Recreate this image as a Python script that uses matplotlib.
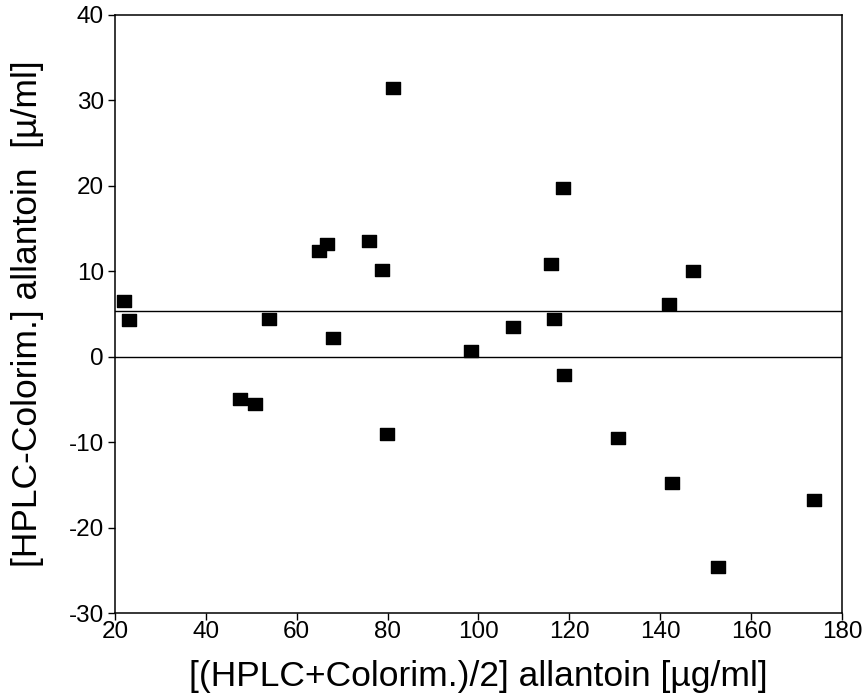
import numpy as np
import matplotlib.pyplot as plt
from matplotlib.path import Path

plt.rcParams['font.family'] = ['Liberation Sans', 'DejaVu Sans']
plt.rcParams['axes.unicode_minus'] = False

# moyenne des deux méthodes (µg/ml)
moyenne = [22.0, 23.1, 47.5, 50.9, 53.8, 65.0, 66.6, 68.0, 75.8, 78.7,
           79.9, 81.1, 98.3, 107.5, 116.0, 116.7, 118.7, 118.8, 130.8,
           141.9, 142.6, 147.3, 152.8, 173.9]
# différence HPLC - colorimétrie
difference = [6.55, 4.26, -5.0, -5.5, 4.4, 12.4, 13.2, 2.15, 13.6, 10.1,
              -9.0, 31.4, 0.7, 3.5, 10.85, 4.4, 19.7, -2.1, -9.5,
              6.2, -14.75, 10.0, -24.65, -16.8]

biais = 5.4   # différence moyenne
zero = 0

# marqueur carré un peu plus large que haut
carre = Path([(-1, -0.85), (1, -0.85), (1, 0.85), (-1, 0.85), (-1, -0.85)],
             [Path.MOVETO, Path.LINETO, Path.LINETO, Path.LINETO, Path.CLOSEPOLY])

fig = plt.figure(figsize=(8.68, 6.93), dpi=100)
ax = fig.add_axes([0.1325, 0.1154, 0.8375, 0.863])

ax.axhline(zero, color='black', lw=1.0)
ax.axhline(biais, color='black', lw=1.0)
ax.plot(moyenne, difference, linestyle='none', marker=carre,
        markersize=10, color='black', clip_on=False)

ax.set_xlim(20, 180)
ax.set_ylim(-30, 40)
ax.set_xticks(np.arange(20, 181, 20))
ax.set_yticks(np.arange(-30, 41, 10))

for s in ax.spines.values():
    s.set_linewidth(1.1)
ax.tick_params(direction='out', length=5, width=1, labelsize=17.5)
ax.tick_params(axis='x', pad=1)
ax.tick_params(axis='y', pad=3)

ax.set_xlabel("[(HPLC+Colorim.)/2] allantoin [µg/ml]", fontsize=25.5, labelpad=12)
ax.set_ylabel("[HPLC-Colorim.] allantoin  [µ/ml]", fontsize=25.5, labelpad=18)

fig.savefig("out.png", dpi=100)
